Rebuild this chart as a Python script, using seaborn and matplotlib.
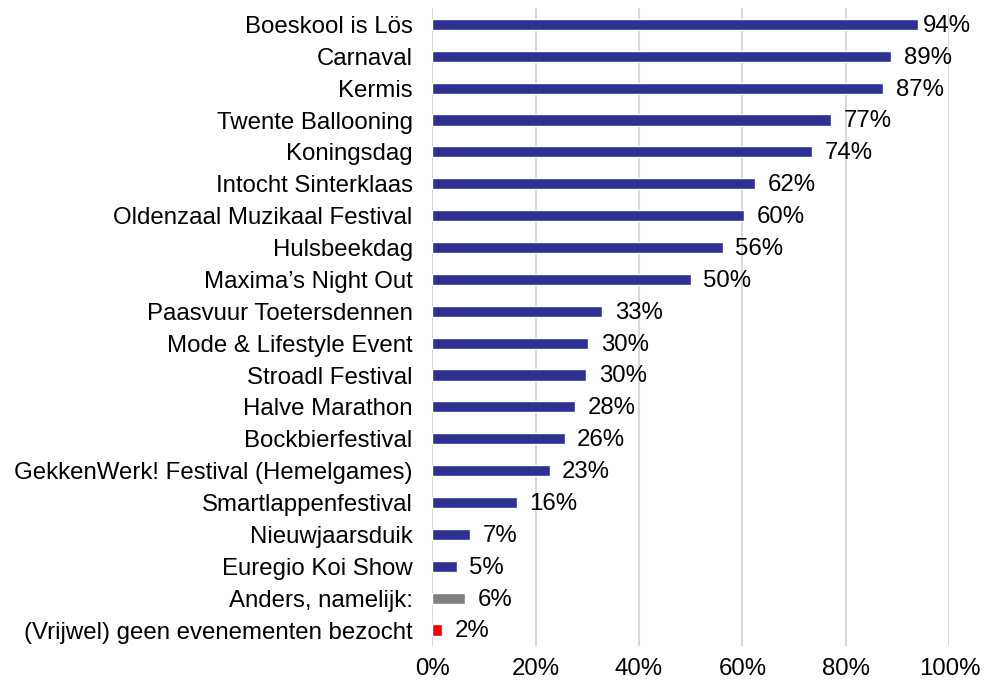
import matplotlib
matplotlib.use("Agg")
import matplotlib.pyplot as plt
import seaborn as sns
from matplotlib.ticker import FuncFormatter

# evenementen en percentage bezocht
events = [
    "Boeskool is Lös",
    "Carnaval",
    "Kermis",
    "Twente Ballooning",
    "Koningsdag",
    "Intocht Sinterklaas",
    "Oldenzaal Muzikaal Festival",
    "Hulsbeekdag",
    "Maxima\u2019s Night Out",
    "Paasvuur Toetersdennen",
    "Mode & Lifestyle Event",
    "Stroadl Festival",
    "Halve Marathon",
    "Bockbierfestival",
    "GekkenWerk! Festival (Hemelgames)",
    "Smartlappenfestival",
    "Nieuwjaarsduik",
    "Euregio Koi Show",
    "Anders, namelijk:",
    "(Vrijwel) geen evenementen bezocht",
]
values = [94.0, 88.8, 87.2, 77.1, 73.5, 62.4, 60.3, 56.2, 50.0, 32.9,
          30.2, 29.8, 27.7, 25.6, 22.7, 16.4, 7.3, 4.8, 6.4, 1.9]
labels = ["94%", "89%", "87%", "77%", "74%", "62%", "60%", "56%", "50%", "33%",
          "30%", "30%", "28%", "26%", "23%", "16%", "7%", "5%", "6%", "2%"]
colors = ["#2E3192"] * 18 + ["#808080", "#FF0000"]

sns.set_style("white")
plt.rcParams["font.family"] = ["Liberation Sans", "DejaVu Sans"]
plt.rcParams["text.color"] = "black"
plt.rcParams["xtick.color"] = "black"
plt.rcParams["ytick.color"] = "black"

fig = plt.figure(figsize=(9.91, 6.84), dpi=100)
ax = fig.add_axes([0.436, 0.0556, 0.522, 0.932])

sns.barplot(x=values, y=events, hue=events, palette=colors, legend=False,
            width=0.35, saturation=1, ax=ax)

for i, (v, lab) in enumerate(zip(values, labels)):
    # label bij de hoogste balk schuift iets in zodat hij binnen het vlak past
    off = 3 if v > 92 else 9
    ax.annotate(lab, xy=(v, i), xytext=(off, -1), textcoords="offset points",
                va="center", ha="left", fontsize=17.3, color="black")

ax.set_xlim(0, 100)
ax.set_xticks(range(0, 101, 20))
ax.xaxis.set_major_formatter(FuncFormatter(lambda x, p: f"{int(x)}%"))
ax.grid(axis="x", color="#D9D9D9", linewidth=1.5)
ax.set_axisbelow(True)
for s in ax.spines.values():
    s.set_visible(False)
ax.tick_params(axis="y", length=0, pad=14, labelsize=17.3, labelcolor="black")
ax.tick_params(axis="x", length=0, pad=9, labelsize=17.3, labelcolor="black")
ax.set_xlabel("")
ax.set_ylabel("")

fig.savefig("out.png", dpi=100)
